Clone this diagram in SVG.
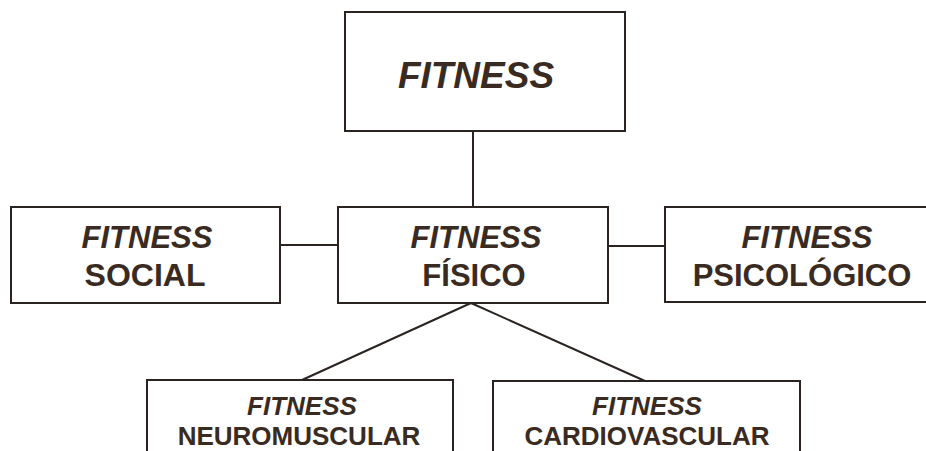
<svg xmlns="http://www.w3.org/2000/svg" width="926" height="451" viewBox="0 0 926 451">
<style>
.box{fill:#fff;stroke:#2b2320;stroke-width:2}
.ln{stroke:#2b2320;stroke-width:2;fill:none}
.t{font-family:"Liberation Sans",Arial,sans-serif;font-weight:bold;fill:#3a2b22;text-anchor:middle}
.i{font-style:italic}
</style>
<rect width="926" height="451" fill="#fff"/>
<g id="connectors">
<line class="ln" x1="473" y1="131" x2="473" y2="207"/>
<line class="ln" x1="280" y1="245" x2="338" y2="245"/>
<line class="ln" x1="608" y1="246" x2="665" y2="246"/>
<line class="ln" x1="471" y1="303" x2="302" y2="380"/>
<line class="ln" x1="471" y1="303" x2="645" y2="381"/>
</g>
<g id="fitness">
<rect class="box" x="345" y="12" width="280" height="119"/>
<text class="t i" x="476" y="88" font-size="37">FITNESS</text>
</g>
<g id="social">
<rect class="box" x="11" y="207" width="269" height="96"/>
<text class="t i" x="147" y="248" font-size="31">FITNESS</text>
<text class="t" x="145" y="286" font-size="32">SOCIAL</text>
</g>
<g id="fisico">
<rect class="box" x="338" y="207" width="270" height="96"/>
<text class="t i" x="476" y="248" font-size="31">FITNESS</text>
<text class="t" x="474" y="286" font-size="31">FÍSICO</text>
</g>
<g id="psicologico">
<rect class="box" x="665" y="207" width="270" height="95"/>
<text class="t i" x="807" y="248" font-size="31">FITNESS</text>
<text class="t" x="802" y="286" font-size="31">PSICOLÓGICO</text>
</g>
<g id="neuromuscular">
<rect class="box" x="147" y="380" width="306" height="80"/>
<text class="t i" x="302" y="415" font-size="26">FITNESS</text>
<text class="t" x="299" y="445" font-size="26">NEUROMUSCULAR</text>
</g>
<g id="cardiovascular">
<rect class="box" x="493" y="381" width="307" height="80"/>
<text class="t i" x="647" y="415" font-size="26">FITNESS</text>
<text class="t" x="647" y="445" font-size="26">CARDIOVASCULAR</text>
</g>
</svg>
